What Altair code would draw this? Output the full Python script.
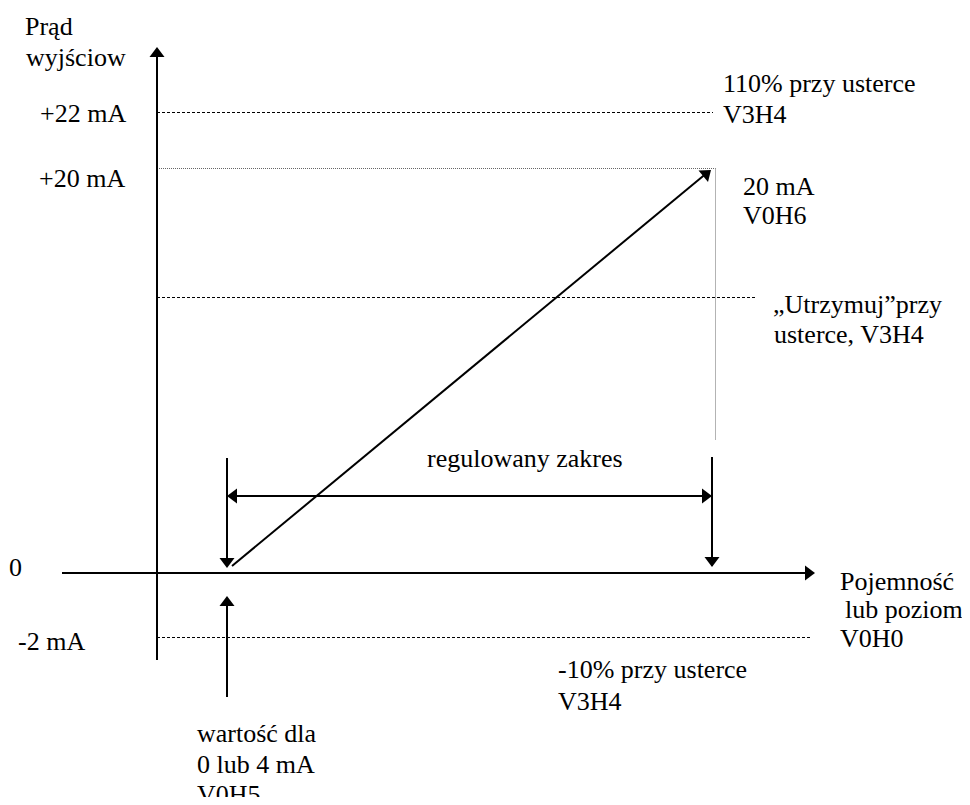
import altair as alt
import pandas as pd

# ---- diagram coordinates (drawing units, origin top-left, y grows downward) ----
# solid strokes: axes and arrow shafts
solid_x1 = [157, 62, 232, 227, 712, 229, 227]
solid_y1 = [660, 573, 566, 458, 457, 496, 697]
solid_x2 = [157, 812, 708, 227, 712, 710, 227]
solid_y2 = [50, 573, 172, 566, 566, 496, 598]

# dashed level lines: +22 mA, "Utrzymuj", -2 mA
dash_x1 = [157, 157, 157]
dash_y1 = [112.5, 297.5, 637.5]
dash_x2 = [713, 757, 810]
dash_y2 = [112.5, 297.5, 637.5]

# dotted lines: +20 mA level and its vertical drop
dot_x1 = [157, 715.5]
dot_y1 = [168.5, 168.5]
dot_x2 = [715.5, 715.5]
dot_y2 = [168.5, 440]

# arrowheads: tip position and direction (degrees clockwise from up)
head_x = [157, 815, 711, 227, 712, 227, 712, 227]
head_y = [47, 573, 170, 568, 567, 496, 496, 596]
head_angle = [0, 90, 50.8, 180, 180, 270, 90, 0]

# text lines
text_lines = ["Prąd", "wyjściow", "+22 mA", "+20 mA", "0", "-2 mA",
              "110% przy usterce", "V3H4", "20 mA", "V0H6",
              "„Utrzymuj”przy", "usterce, V3H4", "regulowany zakres",
              "Pojemność", "lub poziom", "V0H0",
              "-10% przy usterce", "V3H4",
              "wartość dla", "0 lub 4 mA", "V0H5"]
text_x = [25, 26, 40, 39, 9, 18,
          723, 723, 743, 743,
          773, 774, 427,
          840, 845, 840,
          558, 558,
          197, 197, 197]
text_y = [35, 66, 122, 187, 576, 650,
          92, 123, 195, 224,
          313, 343, 467,
          590, 618, 647,
          678, 710,
          742, 773, 803]

W, H = 954, 789
xs = alt.Scale(domain=[8, 8 + W], nice=False, zero=False)
ys = alt.Scale(domain=[8, 8 + H], nice=False, zero=False, reverse=True)

def seg_df(x1, y1, x2, y2):
    return pd.DataFrame({"x": x1, "y": y1, "x2": x2, "y2": y2})

def seg_layer(df, **mark):
    return alt.Chart(df).mark_rule(**mark).encode(
        x=alt.X("x:Q", scale=xs, axis=None),
        y=alt.Y("y:Q", scale=ys, axis=None),
        x2="x2:Q",
        y2="y2:Q",
    )

solid = seg_layer(seg_df(solid_x1, solid_y1, solid_x2, solid_y2),
                  color="black", strokeWidth=2)
dashed = seg_layer(seg_df(dash_x1, dash_y1, dash_x2, dash_y2),
                   color="black", strokeWidth=1, strokeDash=[3, 2])
dotted = seg_layer(seg_df(dot_x1, dot_y1, dot_x2, dot_y2),
                   color="#666666", strokeWidth=1, strokeDash=[1, 1])

heads = alt.Chart(pd.DataFrame({"x": head_x, "y": head_y, "a": head_angle})).mark_point(
    shape="M0,0L1,1.33L-1,1.33Z", filled=True, color="black", opacity=1,
    size=225, strokeWidth=0
).encode(
    x=alt.X("x:Q", scale=xs, axis=None),
    y=alt.Y("y:Q", scale=ys, axis=None),
    angle=alt.Angle("a:Q", scale=None),
)

texts = alt.Chart(pd.DataFrame({"t": text_lines, "x": text_x, "y": text_y})).mark_text(
    align="left", baseline="alphabetic",
    font="'Liberation Serif', 'Times New Roman', 'DejaVu Serif', serif",
    fontSize=26, color="black"
).encode(
    x=alt.X("x:Q", scale=xs, axis=None),
    y=alt.Y("y:Q", scale=ys, axis=None),
    text="t:N",
)

chart = alt.layer(dotted, dashed, solid, heads, texts).properties(
    width=W, height=H, padding=0, autosize=alt.AutoSizeParams(type="none"),
    background="white"
).configure_view(stroke=None)

chart.save("out.html", embed_options={"renderer": "svg", "actions": False})
